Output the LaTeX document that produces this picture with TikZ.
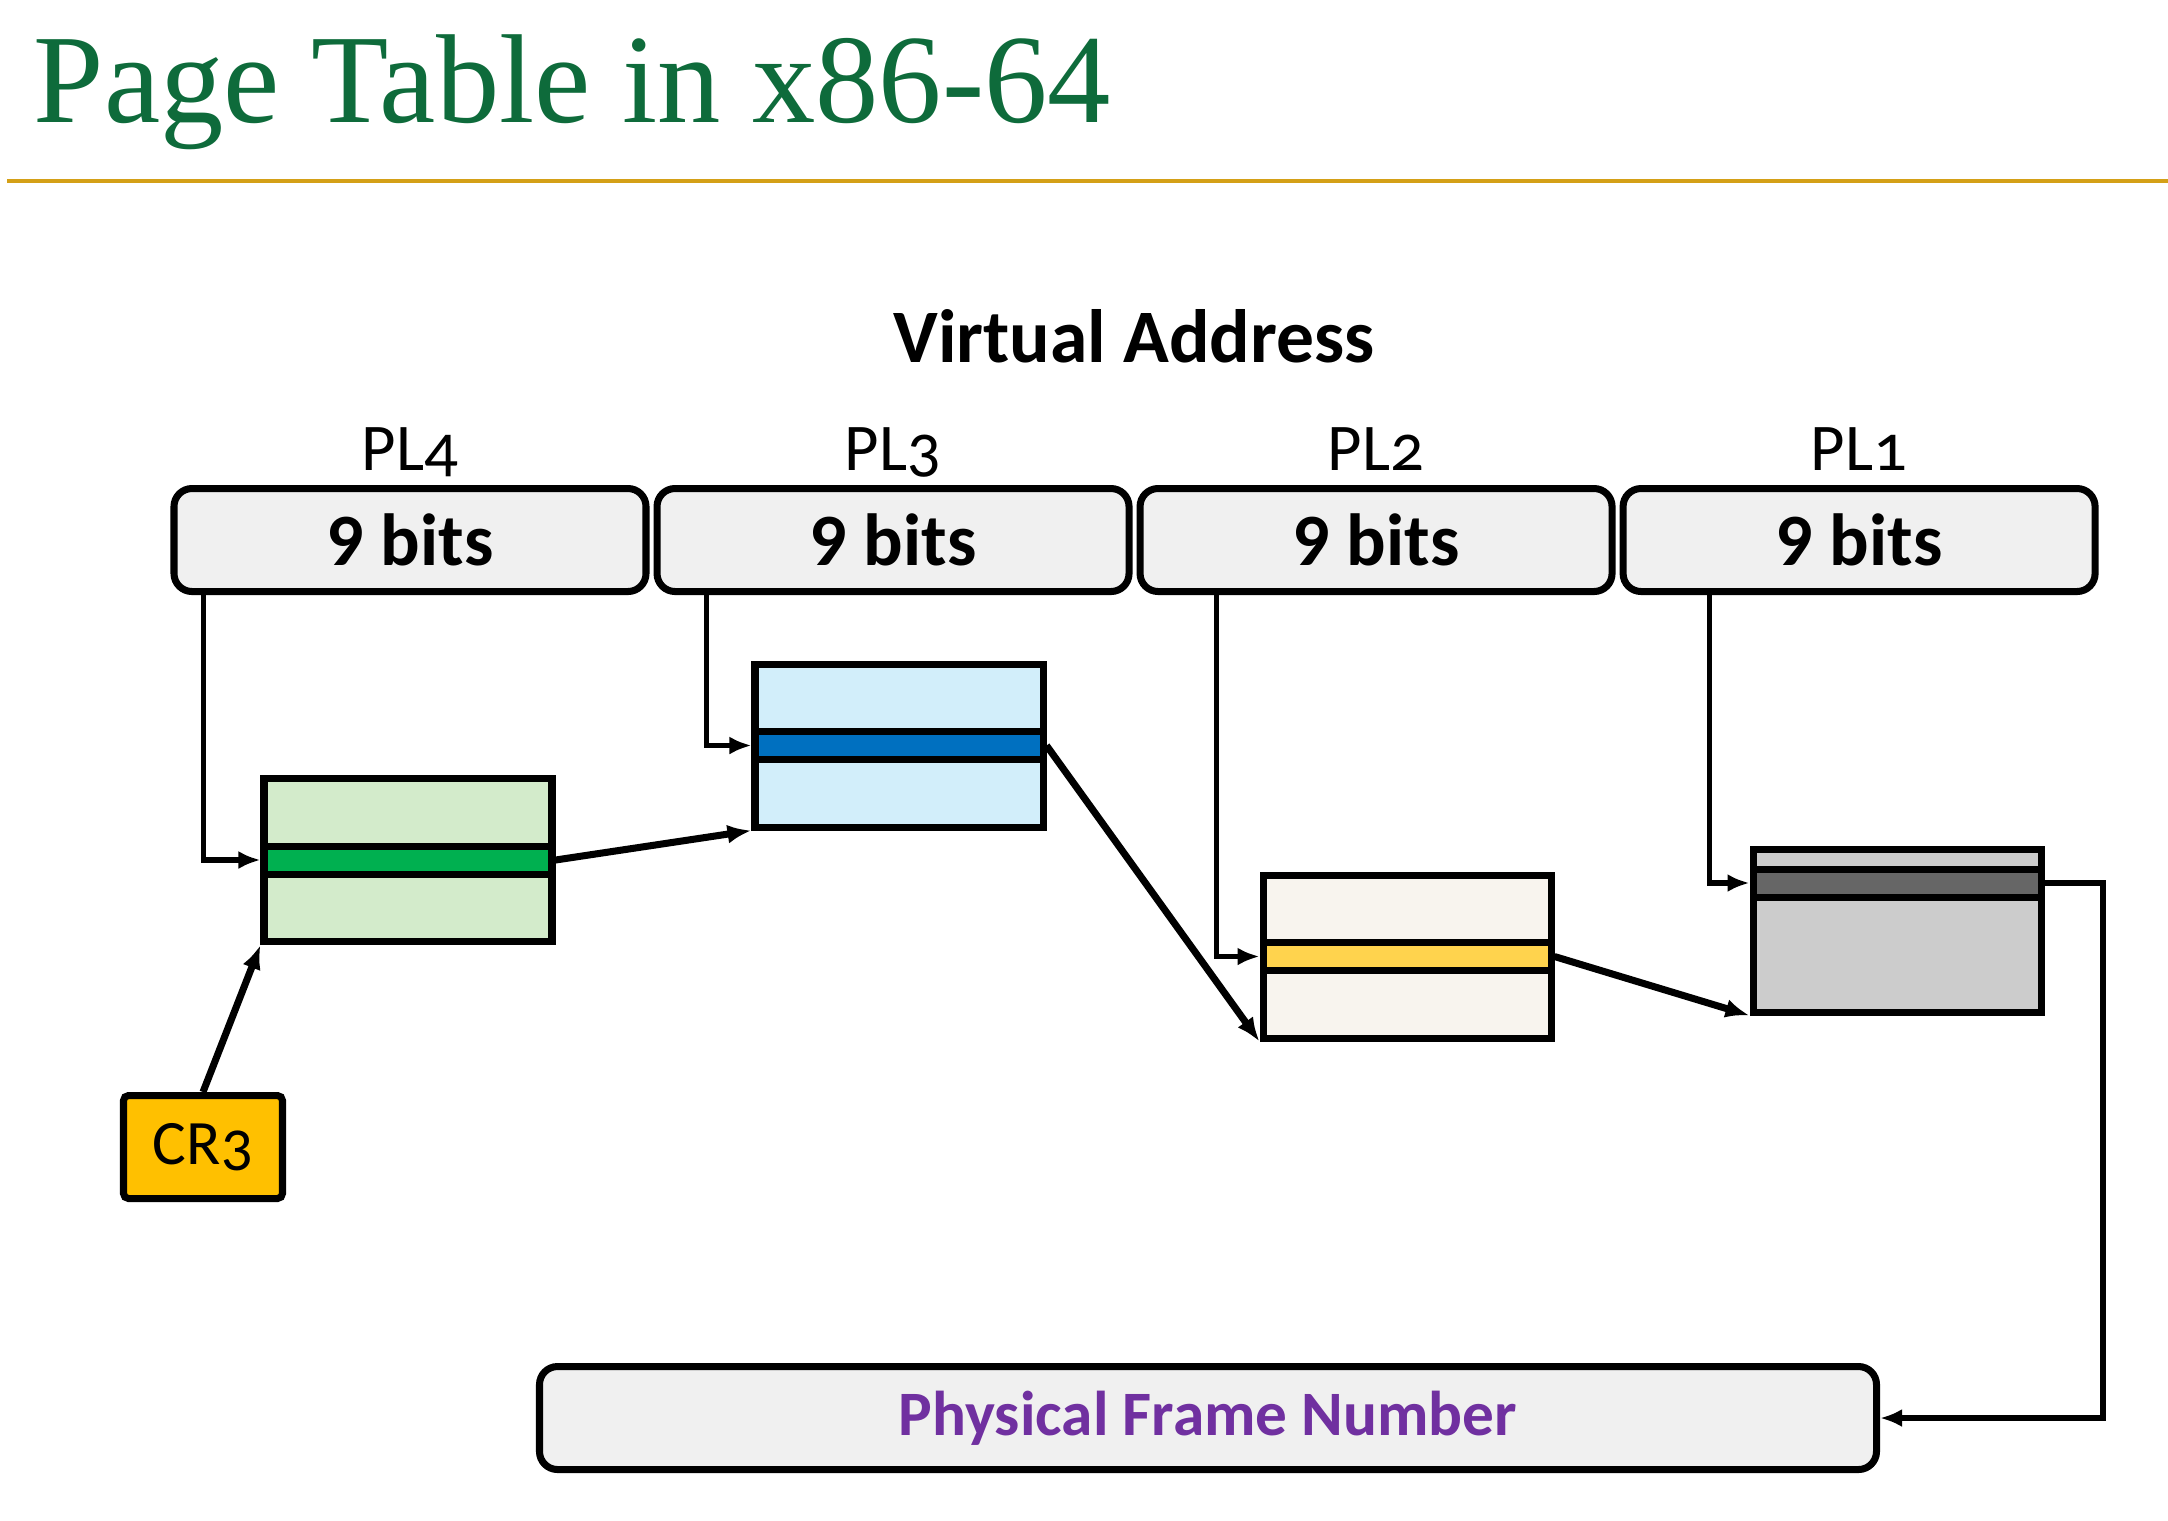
\documentclass[tikz,border=0pt]{standalone}
\usepackage{fontspec}
\setmainfont{Carlito}
\newfontfamily\titlefont{Liberation Serif}
\newfontfamily\oldnum[Numbers=OldStyle]{Carlito}
\usetikzlibrary{positioning,arrows.meta}

\definecolor{titlegreen}{HTML}{0E6B3B}
\definecolor{rulegold}{HTML}{D4A017}
\definecolor{boxgray}{HTML}{F0F0F0}
\definecolor{lgreen}{HTML}{D3EBCB}
\definecolor{dgreen}{HTML}{00B050}
\definecolor{lblue}{HTML}{D2EEFA}
\definecolor{dblue}{HTML}{0070C0}
\definecolor{cream}{HTML}{F8F4EE}
\definecolor{dyellow}{HTML}{FFD34D}
\definecolor{lgray}{HTML}{CCCCCC}
\definecolor{dgray}{HTML}{666666}
\definecolor{crgold}{HTML}{FFC000}
\definecolor{pfnpurple}{HTML}{7030A0}

\tikzset{
  addr/.style={draw, line width=2pt, rounded corners=1.8mm, fill=boxgray, minimum width=4.72cm, minimum height=1.03cm, inner sep=0pt, font=\fontsize{21}{21}\selectfont\bfseries},
  pl/.style={anchor=base, inner sep=0pt, font=\oldnum\fontsize{19}{19}\selectfont},
  tbl/.style={draw, line width=2pt, minimum width=2.88cm, minimum height=1.63cm, inner sep=0pt},
  entry/.style={draw, line width=2pt, minimum width=2.88cm, minimum height=0.28cm, inner sep=0pt},
  link/.style={line width=1.5pt, -{Latex[length=2.2mm,width=1.8mm]}},
  jump/.style={line width=2pt, -{Latex[length=2.4mm,width=1.9mm]}}
}

\begin{document}
\begin{tikzpicture}

\useasboundingbox (0,0) rectangle (21.68,-15.20);

\node[anchor=base west, inner sep=0pt, text=titlegreen, font=\titlefont\fontsize{36}{36}\selectfont] (title) at (0.33,-1.22) {Page Table in x86-64};
\draw[rulegold, line width=1.1pt] (0.07,-1.81) -- (21.68,-1.81);

\node[anchor=base, inner sep=0pt, font=\fontsize{21.5}{21.5}\selectfont\bfseries] (va) at (11.34,-3.62) {Virtual Address};

% address fields
\node[addr] (b4) at (4.10,-5.40) {9 bits};
\node[addr, right=0.04cm of b4] (b3) {9 bits};
\node[addr, right=0.04cm of b3] (b2) {9 bits};
\node[addr, right=0.04cm of b2] (b1) {9 bits};

\node[pl] (pl4) at ([yshift=0.15cm]b4.north) {PL4};
\node[pl] (pl3) at ([yshift=0.15cm]b3.north) {PL3};
\node[pl] (pl2) at ([yshift=0.15cm]b2.north) {PL2};
\node[pl] (pl1) at ([yshift=0.15cm]b1.north) {PL1};

% tables
\node[tbl, fill=lgreen] (t4) at (4.08,-8.60) {};
\node[entry, fill=dgreen] (e4) at (t4.center) {};
\node[tbl, fill=lblue] (t3) at (8.99,-7.455) {};
\node[entry, fill=dblue] (e3) at (t3.center) {};
\node[tbl, fill=cream] (t2) at (14.07,-9.565) {};
\node[entry, fill=dyellow] (e2) at (t2.center) {};
\node[tbl, fill=lgray] (t1) at (18.97,-9.305) {};
\node[entry, fill=dgray] (e1) at (18.97,-8.83) {};

\node[draw, line width=2pt, fill=crgold, rounded corners=0.5mm, minimum width=1.59cm, minimum height=1.03cm, inner sep=0pt, font=\oldnum\fontsize{18}{18}\selectfont] (cr3) at (2.03,-11.47) {CR3};

\node[addr, minimum width=13.37cm, text=pfnpurple, font=\fontsize{18}{18}\selectfont\bfseries] (pfn) at (12.08,-14.18) {Physical Frame Number};

\coordinate (rt) at (21.03,-8.83);

\draw[link] ([xshift=0.33cm]b4.south west) |- (e4.west);
\draw[link] ([xshift=0.53cm]b3.south west) |- (e3.west);
\draw[link] ([xshift=0.80cm]b2.south west) |- (e2.west);
\draw[link] ([xshift=0.90cm]b1.south west) |- (e1.west);

\draw[jump] (cr3.north) -- (t4.south west);
\draw[jump] (e4.east) -- (t3.south west);
\draw[jump] (e3.east) -- (t2.south west);
\draw[jump] (e2.east) -- (t1.south west);
\draw[link] (e1.east) -- (e1.east -| rt) |- (pfn.east);

\end{tikzpicture}
\end{document}
